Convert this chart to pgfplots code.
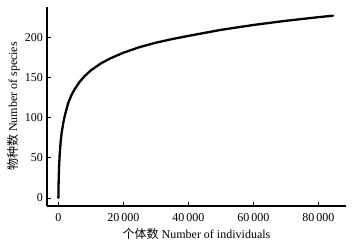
\documentclass[border=0pt]{standalone}
\usepackage{fontspec}
\setmainfont{Liberation Serif}
\newfontfamily\cjk{Noto Sans CJK SC}
\usepackage{pgfplots}
\pgfplotsset{compat=1.18}
\begin{document}
\fontsize{12}{14}\selectfont
\begin{tikzpicture}
\begin{axis}[
  scale only axis,
  width=299pt, height=199pt,
  xmin=-3500, xmax=88500,
  ymin=-10, ymax=238,
  axis x line=bottom, axis y line=left,
  axis line style={-, line width=1.2pt},
  tick align=inside,
  major tick length=4pt,
  tick style={line width=0.8pt, black},
  xtick={0,20000,40000,60000,80000},
  xticklabels={0,20\,000,40\,000,60\,000,80\,000},
  ytick={0,50,100,150,200},
  scaled ticks=false,
  /pgf/number format/assume math mode=true,
  tick label style={font=\fontsize{12}{14}\selectfont},
  xticklabel style={yshift=-3pt},
  label style={font=\fontsize{12}{14}\selectfont},
  xlabel={{\cjk 个体数} Number of individuals},
  ylabel={{\cjk 物种数} Number of species},
  xlabel style={yshift=1pt},
  ylabel style={yshift=-3pt},
]
\addplot[black, line width=2.3pt, line join=round, line cap=round] coordinates {
(0,0) (50,14) (100,23.5) (200,37) (400,54) (700,70) (1000,81) (1500,93.5)
(2000,103) (3000,118) (4000,128) (5000,135.5) (6500,144.5) (8000,151.5)
(10000,159) (13000,167.5) (16000,174) (20000,181) (25000,188) (30000,193.5)
(35000,198) (40000,202) (50000,209.5) (60000,215.6) (70000,220.8)
(80000,225.3) (84500,227.2)
};
\end{axis}
\pgfresetboundingbox
\path (-47pt,-39pt) rectangle (307pt,206pt);
\end{tikzpicture}
\end{document}
